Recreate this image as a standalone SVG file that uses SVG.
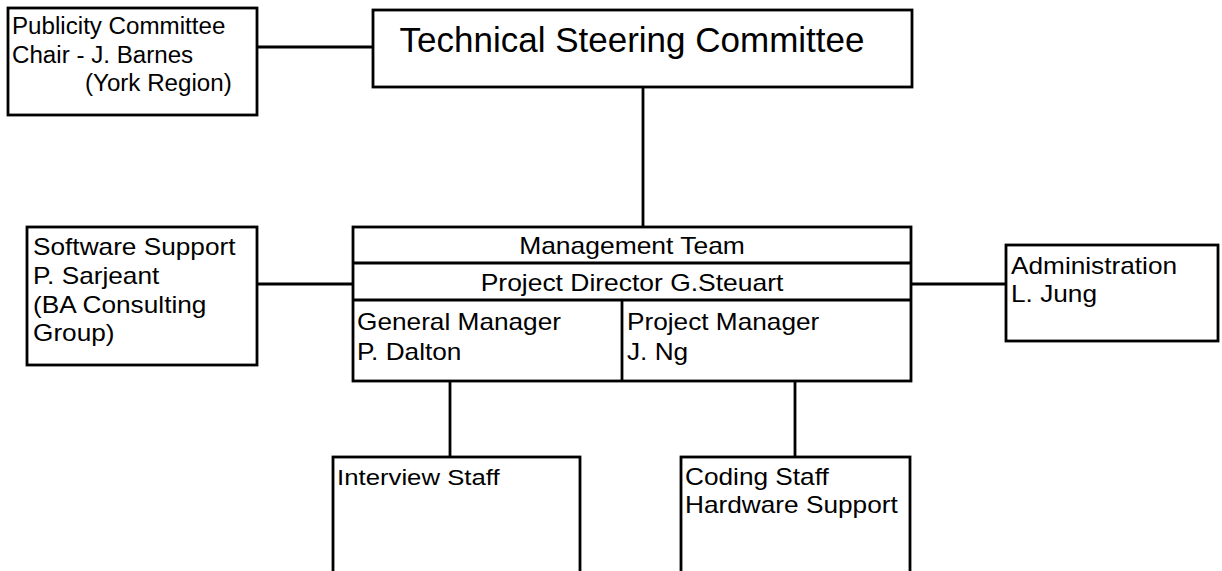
<svg xmlns="http://www.w3.org/2000/svg" width="1222" height="571" viewBox="0 0 1222 571">
<style>
.box{fill:#fff;stroke:#000;stroke-width:2.8}
.ln{stroke:#000;stroke-width:2.8;fill:none}
text{font-family:"Liberation Sans",Arial,sans-serif;font-size:23px;fill:#000}
.big{font-size:35px}
.c{text-anchor:middle}
</style>
<rect width="1222" height="571" fill="#fff"/>
<g id="connectors">
<line class="ln" x1="257" y1="47" x2="373" y2="47"/>
<line class="ln" x1="643" y1="87" x2="643" y2="227"/>
<line class="ln" x1="257" y1="284" x2="353" y2="284"/>
<line class="ln" x1="911" y1="284" x2="1006" y2="284"/>
<line class="ln" x1="450" y1="381" x2="450" y2="457"/>
<line class="ln" x1="795" y1="381" x2="795" y2="457"/>
</g>
<g id="publicity">
<rect class="box" x="8" y="8" width="249" height="107"/>
<g transform="translate(12 0) scale(1.05 1)">
<text x="0" y="34">Publicity Committee</text>
<text x="0" y="63">Chair - J. Barnes</text>
<text x="69.5" y="91">(York Region)</text>
</g>
</g>
<g id="tsc">
<rect class="box" x="373" y="10" width="539" height="77"/>
<text class="big c" x="632" y="52">Technical Steering Committee</text>
</g>
<g id="software">
<rect class="box" x="27" y="227" width="230" height="138"/>
<g transform="translate(33 0) scale(1.14 1)">
<text x="0" y="255">Software Support</text>
<text x="0" y="284">P. Sarjeant</text>
<text x="0" y="313">(BA Consulting</text>
<text x="0" y="341">Group)</text>
</g>
</g>
<g id="management">
<rect class="box" x="353" y="227" width="558" height="154"/>
<line class="ln" x1="353" y1="263" x2="911" y2="263"/>
<line class="ln" x1="353" y1="300" x2="911" y2="300"/>
<line class="ln" x1="622" y1="300" x2="622" y2="381"/>
<g transform="translate(632 0) scale(1.15 1)">
<text class="c" x="0" y="254">Management Team</text>
<text class="c" x="0" y="291">Project Director G.Steuart</text>
</g>
<g transform="translate(357 0) scale(1.14 1)">
<text x="0" y="330">General Manager</text>
<text x="0" y="360">P. Dalton</text>
</g>
<g transform="translate(627 0) scale(1.14 1)">
<text x="0" y="330">Project Manager</text>
<text x="0" y="360">J. Ng</text>
</g>
</g>
<g id="administration">
<rect class="box" x="1006" y="245" width="212" height="96"/>
<g transform="translate(1011 0) scale(1.14 1)">
<text x="0" y="274">Administration</text>
<text x="0" y="302">L. Jung</text>
</g>
</g>
<g id="interview">
<rect class="box" x="333" y="457" width="247" height="130"/>
<g transform="translate(337 0) scale(1.12 1)">
<text x="0" y="485">Interview Staff</text>
</g>
</g>
<g id="coding">
<rect class="box" x="681" y="457" width="229" height="130"/>
<g transform="translate(685 0) scale(1.14 1)">
<text x="0" y="485">Coding Staff</text>
<text x="0" y="513">Hardware Support</text>
</g>
</g>
</svg>
